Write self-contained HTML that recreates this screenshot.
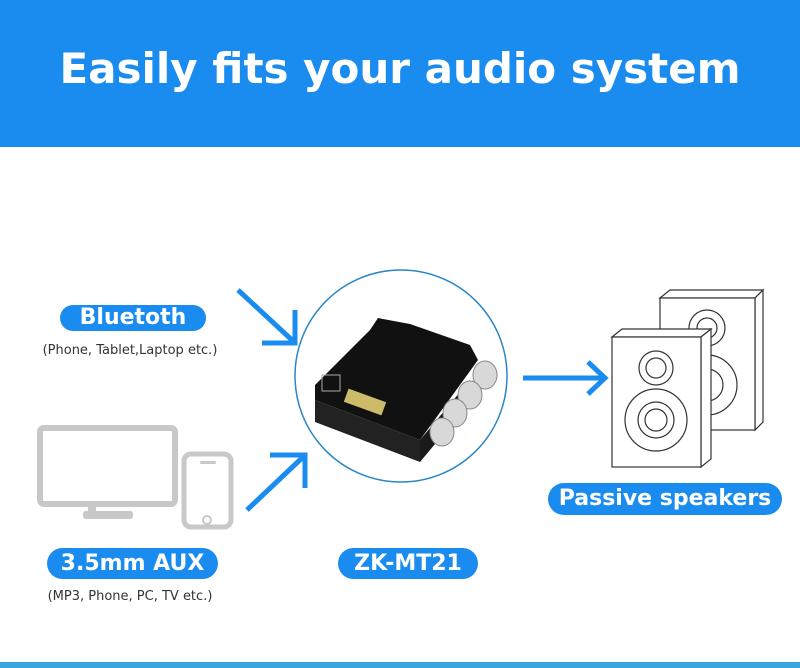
<!DOCTYPE html>
<html><head><meta charset="utf-8"><style>
html,body{margin:0;padding:0;background:#fff;}
body{width:800px;height:668px;overflow:hidden;position:relative;font-family:"Liberation Sans","DejaVu Sans",sans-serif;}
.hdr{position:absolute;left:0;top:0;width:800px;height:147px;background:#1a8cf0;}
.hdr h1{margin:0;position:absolute;left:0;right:0;top:44px;text-align:center;color:#fff;font-size:42px;font-weight:bold;font-family:"DejaVu Sans",sans-serif;letter-spacing:0px;}
.pill{position:absolute;background:#1a8cf0;color:#fff;border-radius:16px;text-align:center;font-family:"DejaVu Sans",sans-serif;font-weight:bold;}
.sub{position:absolute;color:#333;font-size:13px;font-family:"DejaVu Sans",sans-serif;text-align:center;}
</style></head><body>
<div class="hdr"><h1>Easily fits your audio system</h1></div>
<svg style="position:absolute;left:0;top:0" width="800" height="668">
 <g stroke="#1a8cf0" stroke-width="5" fill="none">
  <line x1="238" y1="290" x2="293" y2="341"/>
  <polyline points="262,343 295,343 295,310"/>
  <line x1="247" y1="510" x2="303" y2="457"/>
  <polyline points="270,455 305,455 305,488"/>
  <line x1="523" y1="378" x2="603" y2="378"/>
  <polyline points="588,362 605,378 588,394"/>
 </g>
 <circle cx="401" cy="376" r="106" fill="none" stroke="#2a86c8" stroke-width="1.5"/>
 <polygon points="315,385 370,330 378,318 410,324 470,345 478,360 420,440 315,400" fill="#111"/>
 <polygon points="315,400 420,440 420,462 315,422" fill="#222"/>
 <polygon points="420,440 470,380 470,402 420,462" fill="#1a1a1a"/>
 <rect x="345" y="395" width="40" height="14" fill="#cdbb6a" transform="rotate(20 365 402)"/>
 <rect x="322" y="375" width="18" height="16" fill="none" stroke="#aaa" stroke-width="1"/>
 <g fill="#d8d8d8" stroke="#888">
  <ellipse cx="485" cy="375" rx="12" ry="14"/>
  <ellipse cx="470" cy="395" rx="12" ry="14"/>
  <ellipse cx="455" cy="413" rx="12" ry="14"/>
  <ellipse cx="442" cy="432" rx="12" ry="14"/>
 </g>
 <rect x="40" y="428" width="135" height="76" rx="4" fill="none" stroke="#c8c8c8" stroke-width="6"/>
 <rect x="88" y="504" width="8" height="8" fill="#c8c8c8"/>
 <rect x="83" y="511" width="50" height="8" rx="3" fill="#c8c8c8"/>
 <rect x="184" y="454" width="47" height="73" rx="7" fill="none" stroke="#c8c8c8" stroke-width="5"/>
 <rect x="200" y="461" width="16" height="3" rx="1.5" fill="#c8c8c8"/>
 <circle cx="207" cy="520" r="4" fill="#fff" stroke="#c8c8c8" stroke-width="2"/>
 <g fill="#fff" stroke="#333" stroke-width="1.2">
  <polygon points="660,298 670,290 763,290 755,298"/>
  <polygon points="755,298 763,290 763,422 755,430"/>
  <rect x="660" y="298" width="95" height="132"/>
  <circle cx="707" cy="328" r="18"/><circle cx="707" cy="328" r="10"/>
  <circle cx="707" cy="385" r="30"/><circle cx="707" cy="385" r="16"/>
  <polygon points="612,337 622,329 711,329 701,337"/>
  <polygon points="701,337 711,329 711,459 701,467"/>
  <rect x="612" y="337" width="89" height="130"/>
  <circle cx="656" cy="368" r="17"/><circle cx="656" cy="368" r="10"/>
  <circle cx="656" cy="420" r="31"/><circle cx="656" cy="420" r="18"/><circle cx="656" cy="420" r="11"/>
 </g>
 <rect x="0" y="662" width="800" height="6" fill="#3aa6e0"/>
</svg>
<div class="pill" style="left:60px;top:305px;width:146px;height:26px;line-height:26px;font-size:22px;">Bluetoth</div>
<div class="sub" style="left:20px;top:343px;width:220px;">(Phone, Tablet,Laptop etc.)</div>
<div class="pill" style="left:47px;top:548px;width:171px;height:31px;line-height:31px;font-size:22px;">3.5mm AUX</div>
<div class="sub" style="left:30px;top:589px;width:200px;">(MP3, Phone, PC, TV etc.)</div>
<div class="pill" style="left:338px;top:548px;width:140px;height:31px;line-height:31px;font-size:22px;">ZK-MT21</div>
<div class="pill" style="left:548px;top:483px;width:234px;height:32px;line-height:32px;font-size:22px;">Passive speakers</div>
</body></html>
